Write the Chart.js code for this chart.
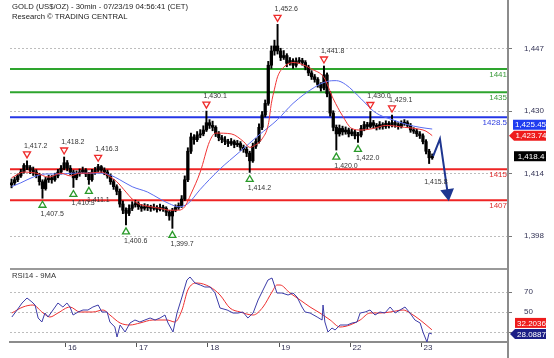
<!DOCTYPE html>
<html><head><meta charset="utf-8">
<script src="https://cdn.jsdelivr.net/npm/chart.js@4"></script>
<style>
body{margin:0;background:#fff;width:554px;height:358px;overflow:hidden;position:relative}
canvas{position:absolute;left:0}
</style></head>
<body>
<canvas id="main" width="554" height="268" style="top:0"></canvas>
<canvas id="rsi" width="554" height="90" style="top:268px"></canvas>
<script>
// ---------- DATA ----------
const titleLines = ['GOLD (US$/OZ) - 30min - 07/23/19 04:56:41 (CET)', 'Research \u00A9 TRADING CENTRAL'];
const dayLabels = ['16','17','18','19','22','23'];
const dayTickIdx = [17.5, 40.5, 63.5, 86.5, 109.5, 132.5];
const priceTicks = [1397.7, 1413.9, 1430.1, 1446.3];
const priceTickLabels = ['1,398','1,414','1,430','1,447'];
const rsiTicks = [30, 50, 70];
const rsiTickLabels = ['30','50','70'];

const opens = [1411.0,1411.5,1412.3,1413.3,1414.3,1416.0,1415.5,1414.8,1414.3,1413.5,
1411.8,1410.0,1412.3,1412.8,1412.3,1413.3,1414.3,1415.3,1416.7,1415.3,
1414.3,1412.8,1413.8,1414.3,1414.8,1413.8,1412.3,1414.3,1414.8,1415.7,
1414.8,1414.3,1413.3,1411.8,1410.5,1409.3,1406.0,1404.4,1403.6,1404.9,
1405.8,1406.1,1405.3,1404.9,1405.3,1405.1,1404.9,1405.1,1404.6,1405.1,
1404.9,1403.9,1402.9,1404.4,1405.1,1405.6,1407.3,1412.3,1419.7,1423.4,
1422.7,1423.9,1424.2,1425.2,1427.1,1426.4,1425.9,1424.2,1423.2,1422.7,
1422.2,1421.7,1422.2,1421.4,1421.7,1420.7,1420.2,1419.2,1417.2,1421.0,
1422.2,1425.9,1429.1,1432.1,1442.0,1445.7,1447.0,1445.7,1444.0,1444.5,
1442.5,1443.2,1442.0,1443.0,1443.2,1442.7,1441.5,1440.0,1439.0,1438.3,
1437.0,1436.1,1439.5,1434.6,1429.6,1425.9,1424.2,1425.6,1424.7,1425.2,
1424.2,1424.7,1423.7,1423.9,1425.6,1426.6,1426.1,1427.1,1426.4,1425.9,
1426.6,1426.1,1426.9,1426.4,1427.1,1426.6,1426.1,1426.9,1427.1,1426.4,
1425.2,1424.9,1424.2,1423.7,1422.2,1419.7,1418.0];
const highs = [1412.5,1413.0,1413.8,1415.0,1416.5,1417.2,1416.0,1415.6,1414.9,1414.0,
1412.3,1412.9,1413.5,1413.4,1414.0,1415.0,1416.0,1418.2,1417.3,1416.0,
1414.8,1414.6,1415.1,1415.6,1415.2,1414.2,1415.0,1415.5,1416.3,1416.0,
1415.4,1414.8,1413.8,1412.4,1411.0,1409.9,1406.8,1405.0,1405.8,1406.6,
1407.0,1406.6,1405.9,1406.1,1405.9,1405.7,1406.0,1405.6,1406.0,1405.7,
1405.3,1404.4,1404.9,1405.8,1406.3,1408.2,1413.3,1420.6,1424.4,1424.0,
1424.8,1425.3,1426.3,1430.1,1427.9,1427.5,1426.3,1424.8,1423.8,1423.5,
1422.8,1423.0,1422.6,1422.5,1422.2,1421.3,1420.8,1419.7,1421.8,1423.0,
1426.8,1430.0,1433.0,1443.0,1447.0,1448.5,1452.6,1446.4,1445.8,1445.0,
1444.0,1443.7,1443.9,1444.0,1443.8,1443.2,1442.0,1440.6,1439.6,1438.8,
1437.5,1441.8,1440.0,1435.2,1430.2,1426.5,1426.5,1426.2,1426.0,1425.7,
1425.5,1425.2,1424.6,1426.4,1427.4,1427.2,1430.0,1427.7,1426.9,1427.4,
1427.1,1427.6,1427.4,1429.1,1427.6,1427.1,1427.6,1427.9,1427.6,1426.9,
1425.8,1425.4,1424.8,1424.2,1422.7,1420.2,1419.0];
const lows = [1410.2,1411.0,1411.8,1412.9,1414.0,1414.9,1413.9,1413.4,1412.8,1410.9,
1407.5,1409.6,1411.6,1411.4,1411.9,1412.8,1413.8,1414.9,1414.6,1413.6,
1410.3,1412.3,1413.2,1413.9,1413.1,1411.1,1411.9,1413.7,1414.3,1414.1,
1413.6,1412.7,1411.1,1409.8,1408.4,1405.2,1403.5,1400.6,1403.0,1404.3,
1405.2,1404.6,1404.1,1404.4,1404.3,1404.1,1404.4,1403.9,1404.2,1404.1,
1403.0,1401.8,1399.7,1404.0,1404.6,1405.1,1406.9,1411.8,1419.1,1421.5,
1422.2,1423.2,1423.7,1424.8,1425.6,1425.0,1423.5,1422.4,1421.9,1421.4,
1420.9,1421.2,1420.6,1420.9,1419.9,1419.4,1418.3,1414.2,1416.8,1420.4,
1421.8,1425.3,1428.6,1431.6,1441.2,1444.6,1444.9,1443.2,1443.5,1441.6,
1442.0,1441.2,1441.5,1442.5,1442.0,1440.8,1439.3,1438.3,1437.6,1436.3,
1435.3,1435.6,1433.8,1428.8,1425.0,1420.0,1423.6,1423.9,1424.1,1423.4,
1423.7,1422.9,1422.0,1423.4,1425.0,1425.4,1425.7,1425.7,1425.2,1425.4,
1425.4,1425.6,1425.7,1426.0,1425.9,1425.4,1425.7,1426.4,1425.8,1424.6,
1424.3,1423.5,1423.0,1421.6,1419.0,1416.5,1417.6];
const closes = [1411.5,1412.3,1413.3,1414.3,1416.0,1415.5,1414.8,1414.3,1413.5,1411.8,
1410.0,1412.3,1412.8,1412.3,1413.3,1414.3,1415.3,1416.7,1415.3,1414.3,
1412.8,1413.8,1414.3,1414.8,1413.8,1412.3,1414.3,1414.8,1415.7,1414.8,
1414.3,1413.3,1411.8,1410.5,1409.3,1406.0,1404.4,1403.6,1404.9,1405.8,
1406.1,1405.3,1404.9,1405.3,1405.1,1404.9,1405.1,1404.6,1405.1,1404.9,
1403.9,1402.9,1404.4,1405.1,1405.6,1407.3,1412.3,1419.7,1423.4,1422.7,
1423.9,1424.2,1425.2,1427.1,1426.4,1425.9,1424.2,1423.2,1422.7,1422.2,
1421.7,1422.2,1421.4,1421.7,1420.7,1420.2,1419.2,1417.2,1421.0,1422.2,
1425.9,1429.1,1432.1,1442.0,1445.7,1447.0,1445.7,1444.0,1444.5,1442.5,
1443.2,1442.0,1443.0,1443.2,1442.7,1441.5,1440.0,1439.0,1438.3,1437.0,
1436.1,1439.5,1434.6,1429.6,1425.9,1424.2,1425.6,1424.7,1425.2,1424.2,
1424.7,1423.7,1423.9,1425.6,1426.6,1426.1,1427.1,1426.4,1425.9,1426.6,
1426.1,1426.9,1426.4,1427.1,1426.6,1426.1,1426.9,1427.1,1426.4,1425.2,
1424.9,1424.2,1423.7,1422.2,1419.7,1418.0,1418.4];

const maRedIdx = [0,4,8,12,16,19,22,25,29,31,34,37,39,41,45,48,51,54,56,58,61,64,66,71,75,77,79,81,83,84,85,86,88,91,94,97,101,104,107,110,113,117,121,127,132,134,136];
const maRedVal = [1412.8,1414.3,1414.0,1413.0,1414.0,1413.3,1414.0,1414.0,1414.3,1413.5,1411.8,1409.1,1407.3,1406.1,1405.3,1404.9,1404.4,1404.4,1405.3,1408.6,1414.3,1422.2,1424.4,1424.2,1422.2,1420.7,1421.4,1422.9,1426.6,1432.1,1435.8,1439.0,1441.5,1442.7,1442.2,1441.0,1438.8,1433.3,1428.9,1425.6,1425.2,1425.6,1426.4,1425.9,1425.4,1424.9,1423.74];
const maBlueIdx = [0,3,7,11,16,20,24,29,32,35,39,44,48,51,54,57,61,67,74,80,86,91,98,102,105,108,113,117,119,123,128,132,136];
const maBlueVal = [1410.5,1411.5,1413.0,1413.8,1413.8,1414.0,1414.0,1414.0,1413.5,1412.3,1410.5,1409.1,1407.3,1406.1,1405.3,1406.1,1409.8,1414.8,1419.7,1423.9,1427.9,1432.1,1436.3,1437.8,1438.0,1437.0,1433.3,1430.1,1429.1,1427.9,1426.6,1425.9,1425.45];

const levelVals = [1441, 1435, 1428.5, 1415, 1407];
const levelLabels = ['1441','1435','1428.5','1415','1407'];

const highIdx = [5,17,28,63,86,101,116,123];
const highVal = [1417.2,1418.2,1416.3,1430.1,1452.6,1441.8,1430.0,1429.1];
const highLabels = ['1,417.2','1,418.2','1,416.3','1,430.1','1,452.6','1,441.8','1,430.0','1,429.1'];
const lowIdx = [10,20,25,37,52,77,105,112];
const lowVal = [1407.5,1410.3,1411.1,1400.6,1399.7,1414.2,1420.0,1422.0];
const lowLabels = ['1,407.5','1,410.3','1,411.1','1,400.6','1,399.7','1,414.2','1,420.0','1,422.0'];

const arrowIdx = [136.3, 138.5, 141.0];
const arrowVal = [1418.4, 1422.9, 1408.8];
const targetIdx = 133.4, targetVal = 1411.8, targetLabel = '1,415.8';

const lastVals = [1425.45, 1423.74, 1418.4];
const lastLabels = ['1,425.45', '1,423.74', '1,418.4'];

const rsiIdx = [0.1,1.8,3.4,5.0,6.6,7.6,8.6,9.8,10.8,11.8,13.4,15.0,16.6,17.9,18.9,19.9,21.5,23.1,24.7,26.3,28.0,29.2,30.9,31.8,33.4,34.1,35.1,36.7,38.3,39.9,41.5,43.1,44.8,46.4,48.0,49.6,50.6,52.2,53.5,55.1,56.7,57.7,59.3,61.0,62.5,64.2,65.8,67.4,69.7,71.6,73.2,74.8,76.4,78.1,79.7,81.3,82.9,84.2,85.8,87.4,89.4,91.0,92.3,93.9,94.9,96.5,98.8,100.4,100.7,101.3,102.3,103.6,104.6,106.2,108.5,110.1,111.7,112.7,114.3,115.9,117.5,119.1,120.7,122.4,124.0,125.6,127.2,128.8,130.4,132.1,133.0,134.3,135.0,135.9];
const rsiVal = [45,52,59,64,60,57,44,40,49,45,52,59,55,59,55,47,50,52,52,55,57,50,50,40,35,25,37,30,39,42,40,42,44,42,44,47,39,30,49,65,82,85,79,77,75,75,69,54,52,49,49,50,44,49,62,72,82,84,69,69,67,69,65,55,50,49,45,42,57,40,30,34,32,37,37,39,40,49,50,52,47,50,49,55,49,52,55,49,42,39,30,20,29,28.09];
const rsiMaIdx = [0.1,3.7,6.9,10.2,12.4,15.0,18.9,22.1,26.3,29.6,31.8,35.1,38.3,41.5,45.7,50.3,52.8,55.1,57.0,59.9,64.2,67.4,70.6,73.9,78.1,81.3,84.2,85.8,86.8,90.0,93.3,96.5,99.7,103.0,106.2,109.4,112.7,115.9,119.1,122.4,126.6,128.8,132.1,135.9];
const rsiMaVal = [49,55,57,49,45,49,55,50,50,52,47,39,37,39,42,42,40,52,72,79,75,67,54,50,47,55,70,77,77,69,62,55,49,42,35,37,42,49,49,50,52,49,42,32.2];
const rsiLastVals = [32.2036, 28.0887];
const rsiLastLabels = ['32.2036', '28.0887'];

// ---------- STYLE ----------
const FONT = '"Liberation Sans", Arial, sans-serif';
Chart.defaults.font.family = FONT;
const levelColors = ['#2ea52e','#2ea52e','#2436e6','#ee2424','#ee2424'];
const levelTextColors = ['#3a9a3a','#3a9a3a','#2d3de0','#e03030','#e03030'];
const X_MIN = -0.5, X_MAX = 160.5;
const pts = (xs, ys) => xs.map((x, i) => ({x, y: ys[i]}));

function tri(ctx, x, y, down, color) {
  const w = 3.5, h = 3;
  ctx.beginPath();
  if (down) { ctx.moveTo(x - w, y - h); ctx.lineTo(x + w, y - h); ctx.lineTo(x, y + h); }
  else { ctx.moveTo(x - w, y + h); ctx.lineTo(x + w, y + h); ctx.lineTo(x, y - h); }
  ctx.closePath();
  ctx.fillStyle = '#fff'; ctx.fill();
  ctx.lineWidth = 1.3; ctx.strokeStyle = color; ctx.stroke();
}
function valueBox(ctx, xl, xr, yc, color, text, arrow) {
  const h = 10;
  ctx.beginPath();
  if (arrow) {
    ctx.moveTo(xl - 5, yc); ctx.lineTo(xl, yc - h / 2); ctx.lineTo(xr, yc - h / 2);
    ctx.lineTo(xr, yc + h / 2); ctx.lineTo(xl, yc + h / 2); ctx.closePath();
  } else ctx.rect(xl, yc - h / 2, xr - xl, h);
  ctx.fillStyle = color; ctx.fill();
  ctx.fillStyle = '#fff'; ctx.font = '8px ' + FONT;
  ctx.textAlign = 'center'; ctx.textBaseline = 'middle';
  ctx.fillText(text, (xl + xr) / 2 + 1, yc + 0.5);
}
function placeBoxes(items, scale) {
  items.forEach(it => it.py = scale.getPixelForValue(it.v));
  const s = items.slice().sort((a, b) => b.py - a.py);
  for (let i = 1; i < s.length; i++) if (s[i].py > s[i - 1].py - 11) s[i].py = s[i - 1].py - 11;
  return items;
}
function axisLine(chart) {
  const ctx = chart.ctx, x = chart.chartArea.right;
  ctx.save(); ctx.strokeStyle = '#8c8c8c'; ctx.lineWidth = 2;
  ctx.beginPath(); ctx.moveTo(x, 0); ctx.lineTo(x, chart.height); ctx.stroke(); ctx.restore();
}

// ---------- MAIN CHART ----------
const wickData = [], bodyData = [];
for (let i = 0; i < closes.length; i++) {
  wickData.push({x: i, y: [lows[i], highs[i]]});
  bodyData.push({x: i, y: [opens[i], closes[i]]});
}
const levelSets = levelVals.map((v, i) => ({
  type: 'line', data: [{x: X_MIN, y: v}, {x: X_MAX, y: v}],
  borderColor: levelColors[i], borderWidth: 2, pointRadius: 0, order: 10
}));

const mainPlugin = {
  id: 'mainAnnot',
  afterDatasetsDraw(chart) {
    const ctx = chart.ctx, xs = chart.scales.x, ys = chart.scales.y, ca = chart.chartArea;
    ctx.save();
    ctx.font = '7px ' + FONT; ctx.textBaseline = 'middle'; ctx.textAlign = 'left';
    highIdx.forEach((k, i) => {
      const px = xs.getPixelForValue(k), py = ys.getPixelForValue(highVal[i]);
      tri(ctx, px, py - 6, true, '#ee2a2a');
      ctx.fillStyle = '#333'; ctx.fillText(highLabels[i], px - 3, py - 15);
    });
    lowIdx.forEach((k, i) => {
      const px = xs.getPixelForValue(k), py = ys.getPixelForValue(lowVal[i]);
      tri(ctx, px, py + 6, false, '#2a9a2a');
      ctx.fillStyle = '#333'; ctx.fillText(lowLabels[i], px - 2, py + 16);
    });
    ctx.fillStyle = '#333';
    ctx.fillText(targetLabel, xs.getPixelForValue(targetIdx), ys.getPixelForValue(targetVal));
    ctx.font = '8px ' + FONT; ctx.textAlign = 'right';
    levelVals.forEach((v, i) => {
      ctx.fillStyle = levelTextColors[i];
      ctx.fillText(levelLabels[i], ca.right - 1, ys.getPixelForValue(v) + 5.5);
    });
    ctx.restore();
  },
  afterDraw(chart) {
    const ctx = chart.ctx, ys = chart.scales.y;
    axisLine(chart);
    ctx.save();
    ctx.fillStyle = '#222'; ctx.font = '7.7px ' + FONT; ctx.textAlign = 'left'; ctx.textBaseline = 'middle';
    ctx.fillText(titleLines[0], 12, 7);
    ctx.fillText(titleLines[1], 12, 17);
    const items = placeBoxes([
      {v: lastVals[0], t: lastLabels[0], c: '#1f3cf0', a: false, xl: 513},
      {v: lastVals[1], t: lastLabels[1], c: '#ee1c1c', a: true, xl: 514},
      {v: lastVals[2], t: lastLabels[2], c: '#000000', a: false, xl: 514}
    ], ys);
    items.forEach(it => valueBox(ctx, it.xl, 546, it.py, it.c, it.t, it.a));
    ctx.restore();
  }
};

new Chart(document.getElementById('main'), {
  type: 'bar',
  data: {
    datasets: [
      ...levelSets,
      {type: 'bar', data: wickData, backgroundColor: '#000', barThickness: 1.3, grouped: false, order: 5},
      {type: 'bar', data: bodyData, backgroundColor: '#000', barThickness: 2.6, minBarLength: 1.2, grouped: false, order: 4},
      {type: 'line', data: pts(maBlueIdx, maBlueVal), borderColor: '#5a6cf0', borderWidth: 1, pointRadius: 0, cubicInterpolationMode: 'monotone', order: 3},
      {type: 'line', data: pts(maRedIdx, maRedVal), borderColor: '#f03434', borderWidth: 1, pointRadius: 0, cubicInterpolationMode: 'monotone', order: 2},
      {type: 'line', data: pts(arrowIdx, arrowVal), borderColor: '#1e3690', borderWidth: 2, tension: 0,
        pointRadius: [0, 0, 6], pointStyle: 'triangle', pointRotation: [0, 0, 172],
        pointBackgroundColor: '#1e3690', pointBorderColor: '#1e3690', clip: false, order: 1}
    ]
  },
  options: {
    responsive: false, animation: false, devicePixelRatio: 1,
    layout: {padding: {left: 10, right: 0, top: 0, bottom: 4}},
    plugins: {legend: {display: false}, tooltip: {enabled: false}},
    scales: {
      x: {type: 'linear', min: X_MIN, max: X_MAX, display: false, offset: false, grid: {offset: false}},
      y: {
        position: 'right', min: 1391.49, max: 1456.84,
        afterBuildTicks: s => { s.ticks = priceTicks.map(v => ({value: v})); },
        afterFit: s => { s.width = 46; s.paddingTop = 0; s.paddingBottom = 0; },
        ticks: {callback: (v, i) => priceTickLabels[i], font: {size: 8}, color: '#333355', padding: 12},
        grid: {color: '#bdbdbd', tickColor: '#777', tickLength: 4, lineWidth: 1},
        border: {display: false, dash: [2, 2]}
      }
    }
  },
  plugins: [mainPlugin]
});

// ---------- RSI CHART ----------
const rsiPlugin = {
  id: 'rsiAnnot',
  afterDraw(chart) {
    const ctx = chart.ctx, ca = chart.chartArea, ys = chart.scales.y;
    ctx.save();
    ctx.strokeStyle = '#9a9a9a'; ctx.lineWidth = 2;
    ctx.beginPath(); ctx.moveTo(ca.left, ca.top); ctx.lineTo(ca.right, ca.top); ctx.stroke();
    ctx.restore();
    axisLine(chart);
    ctx.save();
    ctx.fillStyle = '#333'; ctx.font = '7.7px ' + FONT; ctx.textAlign = 'left'; ctx.textBaseline = 'middle';
    ctx.fillText('RSI14 - 9MA', 12, 8);
    const items = placeBoxes([
      {v: rsiLastVals[0], t: rsiLastLabels[0], c: '#ee1c1c', a: false, xl: 515},
      {v: rsiLastVals[1], t: rsiLastLabels[1], c: '#1c1f86', a: true, xl: 515}
    ], ys);
    items.forEach(it => valueBox(ctx, it.xl, 546, it.py, it.c, it.t, it.a));
    ctx.restore();
  }
};

new Chart(document.getElementById('rsi'), {
  type: 'line',
  data: {
    datasets: [
      {data: pts(rsiMaIdx, rsiMaVal), borderColor: '#ee3030', borderWidth: 1, pointRadius: 0, cubicInterpolationMode: 'monotone', order: 2},
      {data: pts(rsiIdx, rsiVal), borderColor: '#3c3ca8', borderWidth: 1, pointRadius: 0, tension: 0, order: 1}
    ]
  },
  options: {
    responsive: false, animation: false, devicePixelRatio: 1,
    layout: {padding: {left: 10, right: 0, top: 1, bottom: 0}},
    plugins: {legend: {display: false}, tooltip: {enabled: false}},
    scales: {
      x: {
        type: 'linear', min: X_MIN, max: X_MAX, position: 'bottom', offset: false,
        afterBuildTicks: s => { s.ticks = dayTickIdx.map(v => ({value: v})); },
        afterFit: s => { s.height = 16; s.paddingLeft = 0; s.paddingRight = 0; },
        ticks: {callback: (v, i) => ' ' + dayLabels[i], align: 'start', padding: -4, autoSkip: false,
          maxRotation: 0, minRotation: 0, font: {size: 8}, color: '#333355'},
        grid: {drawOnChartArea: false, drawTicks: true, tickLength: 5, tickColor: '#555', offset: false},
        border: {display: true, color: '#8c8c8c', width: 2}
      },
      y: {
        position: 'right', min: 20, max: 93,
        afterBuildTicks: s => { s.ticks = rsiTicks.map(v => ({value: v})); },
        afterFit: s => { s.width = 46; s.paddingTop = 0; s.paddingBottom = 0; },
        ticks: {callback: (v, i) => rsiTickLabels[i], font: {size: 8}, color: '#333355', padding: 12},
        grid: {color: '#bdbdbd', tickColor: '#777', tickLength: 4, lineWidth: 1},
        border: {display: false, dash: [2, 2]}
      }
    }
  },
  plugins: [rsiPlugin]
});
</script>
</body></html>
